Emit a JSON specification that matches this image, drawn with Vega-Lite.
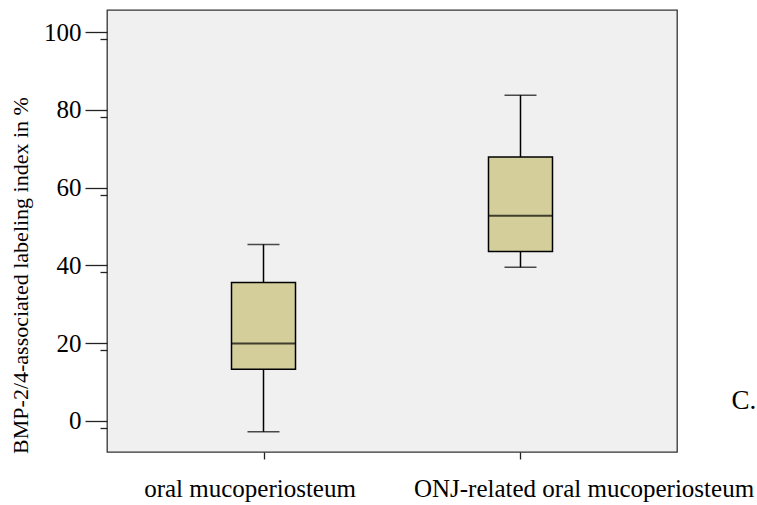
{
  "$schema": "https://vega.github.io/schema/vega-lite/v6.json",
  "width": 570,
  "height": 442,
  "autosize": {"type": "none"},
  "padding": {"left": 107, "top": 10, "right": 80, "bottom": 53},
  "background": "white",
  "config": {
    "view": {"fill": "#f0f0f0", "stroke": "#333333", "strokeWidth": 1.3},
    "font": "Liberation Serif"
  },
  "data": {
    "values": [
      {"group": "oral mucoperiosteum", "min": -2.8, "q1": 13.3, "median": 19.9, "q3": 35.6, "max": 45.4},
      {"group": "ONJ-related oral mucoperiosteum", "min": 39.5, "q1": 43.6, "median": 52.8, "q3": 67.9, "max": 83.8}
    ]
  },
  "resolve": {"scale": {"y": "shared"}, "axis": {"y": "independent"}},
  "encoding": {
    "x": {
      "field": "group",
      "type": "nominal",
      "sort": null,
      "scale": {"type": "point", "padding": 0.609},
      "axis": {
        "title": null,
        "labelAngle": 0,
        "labelLimit": 0,
        "labelFont": "Liberation Serif",
        "labelFontSize": 25,
        "labelColor": "black",
        "labelPadding": 17,
        "labelOffset": {"condition": {"test": "datum.value === 'oral mucoperiosteum'", "value": -14}, "value": 63},
        "tickSize": 7,
        "tickColor": "#222222",
        "tickWidth": 1.3,
        "domain": false,
        "grid": false
      }
    }
  },
  "layer": [
    {
      "mark": {"type": "rule", "color": "black", "strokeWidth": 1.5},
      "encoding": {
        "y": {
          "field": "min",
          "type": "quantitative",
          "scale": {"domain": [-8, 105.7], "nice": false, "zero": false},
          "axis": {
            "orient": "left",
            "title": "BMP-2/4-associated labeling index in %",
            "titleFont": "Liberation Serif",
            "titleFontSize": 22,
            "titleFontWeight": "normal",
            "titleColor": "black",
            "titleX": -80,
            "titleY": 265,
            "titleAngle": -90,
            "titleAlign": "center",
            "titleBaseline": "alphabetic",
            "values": [0, 20, 40, 60, 80, 100],
            "labelFont": "Liberation Serif",
            "labelFontSize": 25,
            "labelColor": "black",
            "labelPadding": 4,
            "tickSize": 22,
            "tickColor": "#222222",
            "tickWidth": 1.3,
            "domain": false,
            "grid": false
          }
        },
        "y2": {"field": "max"}
      }
    },
    {
      "mark": {"type": "bar", "fill": "#d3ce9a", "stroke": "black", "strokeWidth": 1.5, "size": 64},
      "encoding": {
        "y": {
          "field": "q1",
          "type": "quantitative",
          "axis": {
            "orient": "right",
            "title": "C.",
            "titleFont": "Liberation Serif",
            "titleFontSize": 27,
            "titleFontWeight": "normal",
            "titleColor": "black",
            "titleAngle": 0,
            "titleX": 54,
            "titleY": 398,
            "titleAlign": "left",
            "titleBaseline": "alphabetic",
            "labels": false,
            "ticks": false,
            "domain": false,
            "grid": false
          }
        },
        "y2": {"field": "q3"}
      }
    },
    {
      "mark": {"type": "tick", "color": "black", "size": 64, "thickness": 2},
      "encoding": {"y": {"field": "median", "type": "quantitative", "axis": null}}
    },
    {
      "mark": {"type": "tick", "color": "black", "size": 32, "thickness": 1.5},
      "encoding": {"y": {"field": "max", "type": "quantitative", "axis": null}}
    },
    {
      "mark": {"type": "tick", "color": "black", "size": 32, "thickness": 1.5},
      "encoding": {
        "y": {
          "field": "min",
          "type": "quantitative",
          "axis": {
            "orient": "left",
            "title": null,
            "labels": false,
            "values": [0, 20, 40, 60, 80, 100],
            "tickSize": 7,
            "tickOffset": 7,
            "tickColor": "#222222",
            "tickWidth": 1.3,
            "domain": false,
            "grid": false,
            "offset": 0
          }
        }
      }
    }
  ]
}
